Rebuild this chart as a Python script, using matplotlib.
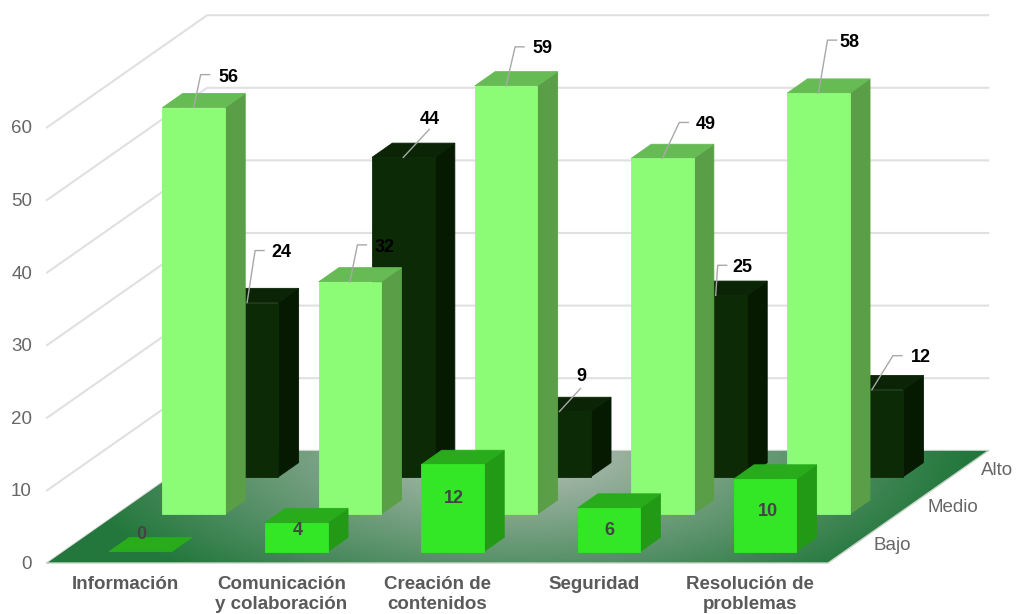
import numpy as np
import matplotlib
matplotlib.use("Agg")
from matplotlib import pyplot as plt
from matplotlib.patches import Polygon

plt.rcParams["font.family"] = ["Liberation Sans", "DejaVu Sans"]

categories = ["Información", "Comunicación\ny colaboración", "Creación de\ncontenidos",
              "Seguridad", "Resolución de\nproblemas"]
levels = ["Bajo", "Medio", "Alto"]
bajo = [0, 4, 12, 6, 10]
medio = [56, 32, 59, 49, 58]
alto = [24, 44, 9, 25, 12]
value_ticks = [0, 10, 20, 30, 40, 50, 60]

# oblique projection, everything ends up in image pixels
X0, Y0 = 47, 563
CAT_W = 156.2
ROW_DX, ROW_DY = 53.4, -37.4
PX_PER_UNIT = 7.26
BAR_W = 0.4
BAR_D = 0.38


def proj(cat, val, row):
    return (X0 + cat * CAT_W + row * ROW_DX, Y0 - val * PX_PER_UNIT + row * ROW_DY)


fig = plt.figure(figsize=(10.16, 6.14), dpi=100)
ax = fig.add_axes([0, 0, 1, 1])
ax.axis("off")

n_cat = len(categories)
n_row = len(levels)

# gridlines: along the left wall and the back wall
for v in value_ticks:
    pts = [proj(0, v, 0), proj(0, v, n_row), proj(n_cat, v, n_row)]
    ax.plot(*zip(*pts), color="#e0e0e0", lw=1.5, zorder=1, solid_joinstyle="miter")

# floor with radial gradient
corners = [proj(0, 0, 0), proj(n_cat, 0, 0), proj(n_cat, 0, n_row), proj(0, 0, n_row)]
floor = Polygon(corners, closed=True, facecolor="none", edgecolor="none", zorder=2)
ax.add_patch(floor)
gx, gy = np.meshgrid(np.linspace(40, 1000, 480), np.linspace(445, 570, 125))
r = np.clip(np.hypot((gx - 515) / 450, (gy - 450) / 170), 0, 1)[..., None]
inner = np.array([0.74, 0.76, 0.74])
outer = np.array([0.14, 0.47, 0.24])
im = ax.imshow(inner + (outer - inner) * r, extent=(40, 1000, 570, 445), zorder=2,
               aspect="auto", interpolation="bilinear")
im.set_clip_path(floor)
ax.plot(*zip(corners[0], corners[1], corners[2]), color="#c4d4c8", lw=1, zorder=2.5)

ax.set_xlim(0, 1016)
ax.set_ylim(614, 0)


def draw_bar(cat, val, row, front, top, side, z):
    c0 = cat + 0.5 - BAR_W / 2 - 0.007
    c1 = c0 + BAR_W
    r0 = row + 0.5 - BAR_D / 2 - 0.005
    r1 = r0 + BAR_D
    kw = dict(closed=True, zorder=z, lw=0.6)
    ax.add_patch(Polygon([proj(c1, 0, r0), proj(c1, 0, r1), proj(c1, val, r1), proj(c1, val, r0)],
                         facecolor=side, edgecolor=side, **kw))
    ax.add_patch(Polygon([proj(c0, val, r0), proj(c1, val, r0), proj(c1, val, r1), proj(c0, val, r1)],
                         facecolor=top, edgecolor=top, **kw))
    if val > 0:
        ax.add_patch(Polygon([proj(c0, 0, r0), proj(c1, 0, r0), proj(c1, val, r0), proj(c0, val, r0)],
                             facecolor=front, edgecolor=front, **kw))
    return proj((c0 + c1) / 2, val, r0)


row_styles = [("#33e626", "#28ac1c", "#229a16"),
              ("#8cfb75", "#66bb55", "#5a9f48"),
              ("#0c2a06", "#0a2405", "#061a02")]
row_values = [bajo, medio, alto]

# label offsets from the bar top
bajo_labels = [(1, -17), (1, 8), (1, 34), (0, 22), (3, 33)]
# leader line offsets from the bar top: elbow dx, elbow dy, label dx, label dy
medio_leaders = [(7, -33, 35, -30), (7.5, -37, 34.5, -34), (9, -39, 36, -37), (17, -36, 43, -34), (9, -53, 31, -51)]
alto_leaders = [(8, -52, 34, -50), (26, -28, 26, -38), (21, -23, 22, -35), (2, -30, 27, -28), (21, -34, 49, -32)]
leaders = [None, medio_leaders, alto_leaders]

for row in [2, 1, 0]:
    front, top, side = row_styles[row]
    for i, val in enumerate(row_values[row]):
        x, y = draw_bar(i, val, row, front, top, side, 3 + (2 - row))
        if row == 0:
            dx, dy = bajo_labels[i]
            ax.text(x + dx, y + dy, str(val), ha="center", va="center", fontsize=13,
                    fontweight="bold", color="#444444", zorder=8)
        else:
            ex, ey, lx, ly = leaders[row][i]
            pts = [(x, y), (x + ex, y + ey)]
            if abs(ey - ly) < 4:
                pts.append((x + ex + 9, y + ey))
            ax.plot(*zip(*pts), color="#a8a8a8", lw=1, zorder=7)
            ax.text(x + lx, y + ly, str(val), ha="center", va="center", fontsize=13,
                    fontweight="bold", color="black", zorder=8)

# axis labels
for v in value_ticks:
    x, y = proj(0, v, 0)
    ax.text(x - 15, y + 1.5, str(v), ha="right", va="center", fontsize=13.5, color="#666666")

for i, name in enumerate(categories):
    x, _ = proj(i + 0.5, 0, 0)
    ax.text(x, 576, name, ha="center", va="top", fontsize=13.5, fontweight="bold",
            color="#5a5a5a", linespacing=1.25)

for j, name in enumerate(levels):
    x, y = proj(n_cat, 0, j + 0.5)
    ax.text(x + 19, y + 1, name, ha="left", va="center", fontsize=13.5, color="#666666")

fig.savefig("out.png", dpi=100)
